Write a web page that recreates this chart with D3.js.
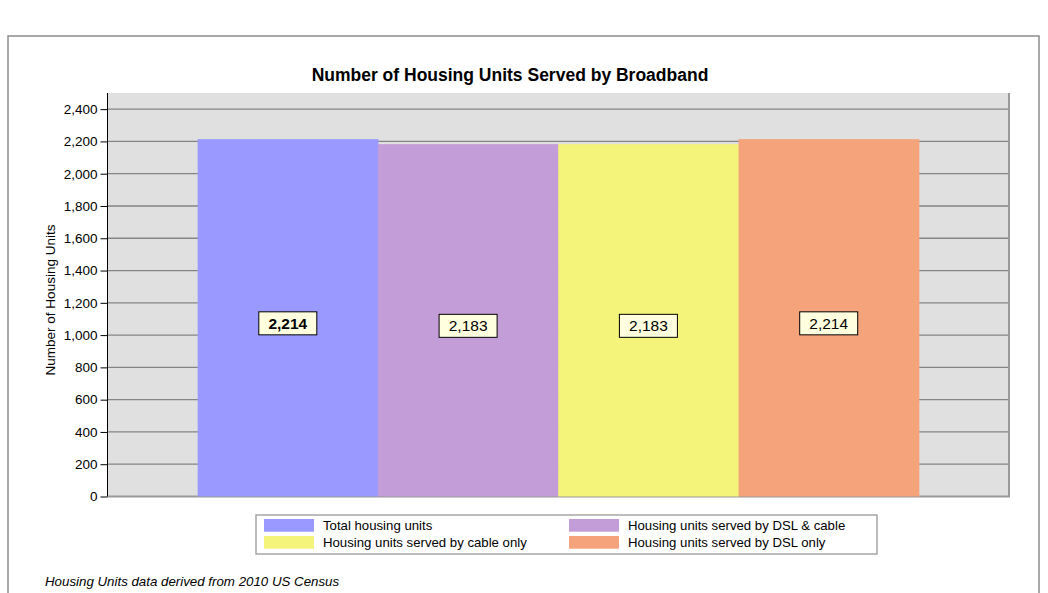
<!DOCTYPE html>
<html>
<head>
<meta charset="utf-8">
<script src="https://cdn.jsdelivr.net/npm/d3@7"></script>
<style>
  html, body { margin: 0; padding: 0; background: #fff; }
  svg { display: block; font-family: "Liberation Sans", Arial, sans-serif; }
</style>
</head>
<body>
<svg id="chart"></svg>
<script>
// data
const seriesNames = [
  'Total housing units',
  'Housing units served by DSL & cable',
  'Housing units served by cable only',
  'Housing units served by DSL only'
];
const seriesValues = [2214, 2183, 2183, 2214];
const seriesColors = ['#9999ff', '#c39dd7', '#f4f47a', '#f4a37a'];
const yTicks = [0, 200, 400, 600, 800, 1000, 1200, 1400, 1600, 1800, 2000, 2200, 2400];

const chartTitle = 'Number of Housing Units Served by Broadband';
const yTitle = 'Number of Housing Units';
const footNote = 'Housing Units data derived from 2010 US Census';

const W = 1048, H = 593;
const margin = {top: 93, right: 39, bottom: 96.5, left: 107.5};
const width = W - margin.left - margin.right;
const height = H - margin.top - margin.bottom;

const svg = d3.select('#chart').attr('width', W).attr('height', H);

// outer chart frame
svg.append('rect')
  .attr('x', 8).attr('y', 36)
  .attr('width', 1031).attr('height', 600)
  .attr('fill', '#fff')
  .attr('stroke', '#8c8c8c')
  .attr('stroke-width', 1.5);

svg.append('text')
  .attr('x', 510).attr('y', 81)
  .attr('text-anchor', 'middle')
  .attr('font-size', '17.5px')
  .attr('font-weight', 'bold')
  .text(chartTitle);

const chart = svg.append('g')
  .attr('transform', 'translate(' + margin.left + ',' + margin.top + ')');

const data = seriesNames.map((name, i) => ({name, value: seriesValues[i], color: seriesColors[i]}));

const x = d3.scaleBand()
  .domain(seriesNames)
  .range([0, width])
  .paddingInner(0)
  .paddingOuter(0.5);

const y = d3.scaleLinear()
  .domain([0, 2500])
  .range([height, 0]);

// plot background
chart.append('rect')
  .attr('width', width).attr('height', height)
  .attr('fill', '#e0e0e0');

// gridlines
chart.append('g')
  .selectAll('line')
  .data(yTicks.filter(d => d > 0))
  .join('line')
    .attr('x1', 0).attr('x2', width)
    .attr('y1', d => y(d)).attr('y2', d => y(d))
    .attr('stroke', '#858585')
    .attr('stroke-width', 1.3);

// right / bottom shadow border
chart.append('path')
  .attr('d', 'M' + width + ',0V' + height + 'H0')
  .attr('fill', 'none')
  .attr('stroke', '#999')
  .attr('stroke-width', 2);

// bars
chart.append('g')
  .selectAll('rect')
  .data(data)
  .join('rect')
    .attr('x', d => x(d.name))
    .attr('y', d => y(d.value))
    .attr('width', x.bandwidth() + 0.5)
    .attr('height', d => height - y(d.value))
    .attr('fill', d => d.color);

// y axis
const yAxis = d3.axisLeft(y)
  .tickValues(yTicks)
  .tickSize(7)
  .tickPadding(3)
  .tickFormat(d3.format(','));

chart.append('g')
  .attr('class', 'y axis')
  .call(yAxis)
  .call(g => g.select('.domain').attr('stroke', '#000').attr('d', 'M0,0V' + height))
  .call(g => g.selectAll('.tick line').attr('stroke', '#000'))
  .call(g => g.selectAll('.tick text')
    .attr('font-size', '13.5px')
    .attr('font-family', '"Liberation Sans", Arial, sans-serif')
    .attr('fill', '#000'));

svg.append('text')
  .attr('transform', 'translate(50,' + 300 + ') rotate(-90)')
  .attr('text-anchor', 'middle')
  .attr('dy', '0.35em')
  .attr('font-size', '13.5px')
  .text(yTitle);

// value labels
const labels = chart.append('g')
  .selectAll('g')
  .data(data)
  .join('g')
    .attr('transform', d => 'translate(' + (x(d.name) + x.bandwidth() / 2) + ',' + (y(d.value / 2) + 5.5) + ')');

labels.append('rect')
  .attr('x', -29).attr('y', -11.5)
  .attr('width', 58).attr('height', 23)
  .attr('fill', '#ffffe0')
  .attr('stroke', '#000')
  .attr('stroke-width', 1);

labels.append('text')
  .attr('text-anchor', 'middle')
  .attr('dy', '0.36em')
  .attr('font-size', '15.5px')
  .attr('font-weight', (d, i) => i === 0 ? 'bold' : 'normal')
  .text(d => d3.format(',')(d.value));

// legend
const legend = svg.append('g').attr('transform', 'translate(256,515)');
legend.append('rect')
  .attr('width', 621).attr('height', 39)
  .attr('fill', '#fff')
  .attr('stroke', '#999')
  .attr('stroke-width', 1.3);

const items = legend.selectAll('g.item')
  .data(data)
  .join('g')
    .attr('class', 'item')
    .attr('transform', (d, i) => 'translate(' + (8 + (i % 2) * 305) + ',' + (4 + Math.floor(i / 2) * 17) + ')');

items.append('rect')
  .attr('width', 50).attr('height', 12.7)
  .attr('fill', d => d.color);

items.append('text')
  .attr('x', 59).attr('y', 6.4)
  .attr('dy', '0.36em')
  .attr('font-size', '13.2px')
  .text(d => d.name);

svg.append('text')
  .attr('x', 45).attr('y', 586)
  .attr('font-size', '13.3px')
  .attr('font-style', 'italic')
  .text(footNote);
</script>
</body>
</html>
